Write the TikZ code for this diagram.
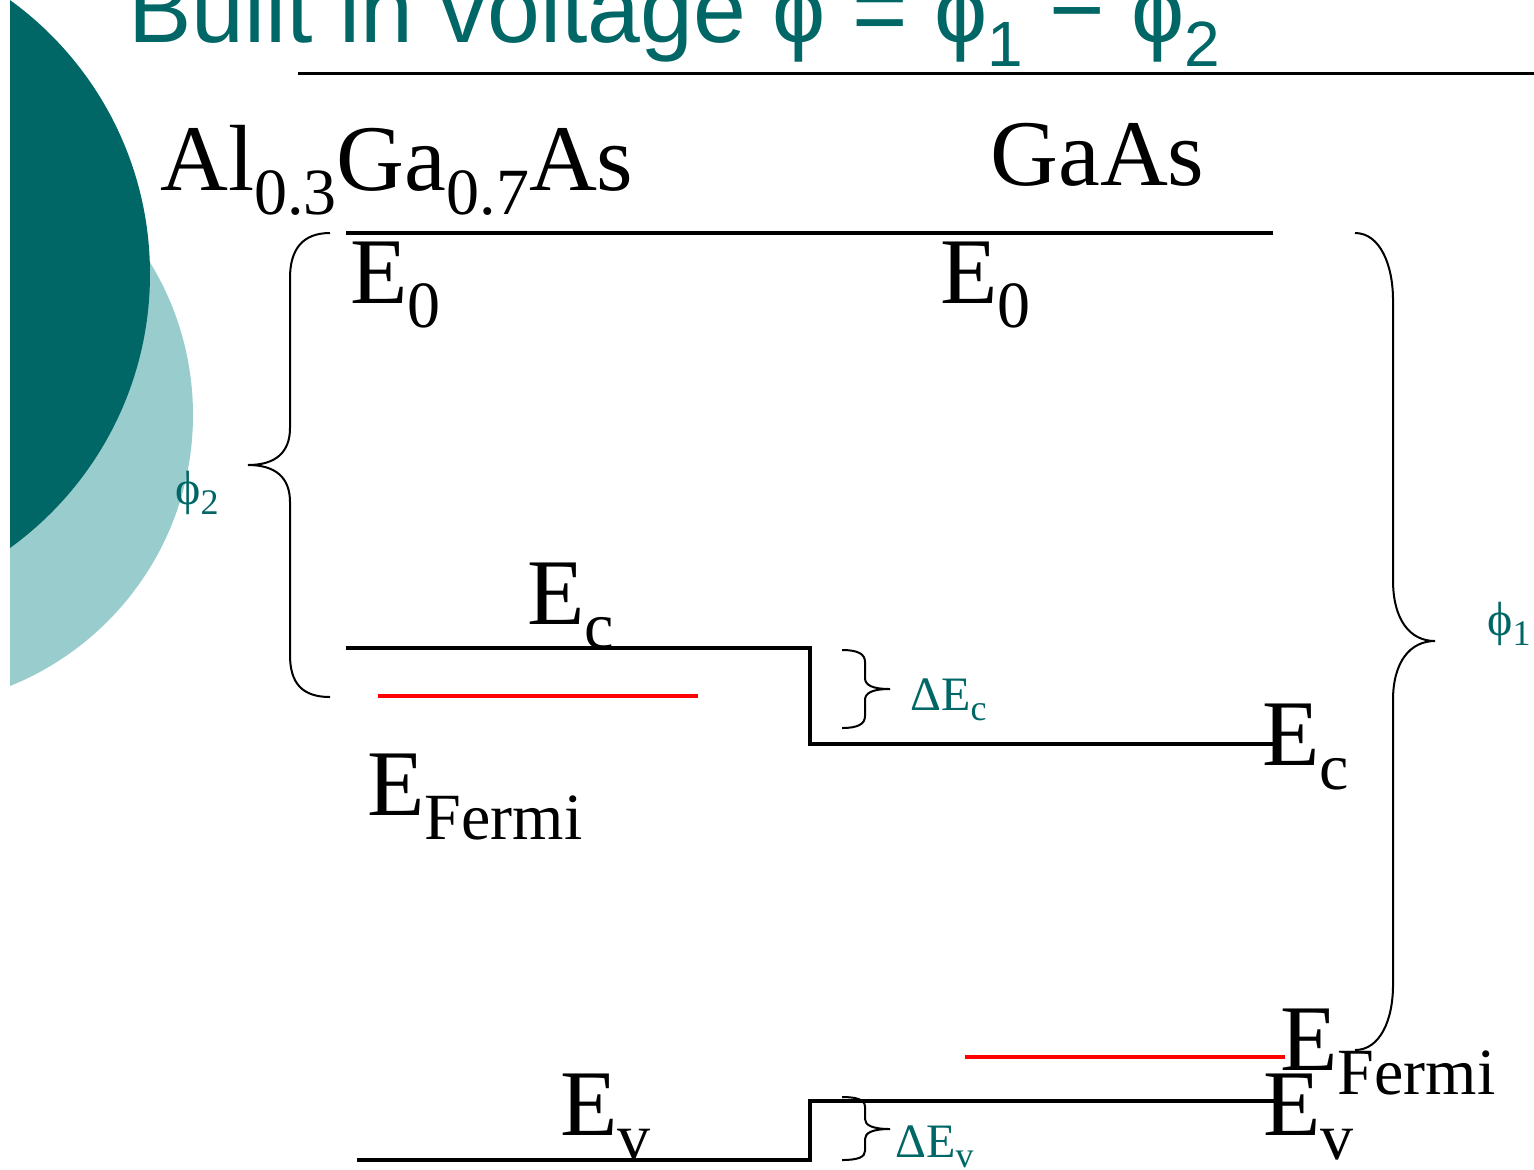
\documentclass[tikz,border=0pt]{standalone}
\usepackage{fontspec}
\setmainfont{Liberation Serif}
\newfontfamily\titlefont{Liberation Sans}
\definecolor{darkteal}{RGB}{0,102,102}
\definecolor{lightteal}{RGB}{153,204,204}
\tikzstyle{band} = [line width=2.4pt]
\tikzset{
lab/.style= {anchor=base west, inner sep=0pt, font=\fontsize{47}{47}\selectfont},
smalllab/.style= {anchor=base west, inner sep=0pt, text=darkteal, font=\fontsize{24}{24}\selectfont},
brace/.style= {line width=1pt},
fermi/.style= {line width=2.4pt, draw=red}
}
\newcommand{\bigsub}[1]{\raisebox{-12pt}{\fontsize{33}{33}\selectfont #1}}
\newcommand{\smallsub}[1]{\raisebox{-5pt}{\fontsize{18}{18}\selectfont #1}}
\newcommand{\titlesub}[1]{\raisebox{-12pt}{\fontsize{32}{32}\selectfont #1}}
\begin{document}
\begin{tikzpicture}[x=0.5pt,y=-0.5pt]
\useasboundingbox (0,0) rectangle (1534,1169);

% the two circles of the slide
\begin{scope}
\clip (10,0) rectangle (400,1169);
\fill[lightteal] (-99,415) circle (146pt);
\fill[darkteal] (-188,274) circle (169pt);
\end{scope}

% the title and its rule
\node[anchor=base west, inner sep=0pt, text=darkteal, font=\titlefont\fontsize{47.5}{47.5}\selectfont] (title) at (128,42) {Built in voltage ϕ = ϕ\titlesub{1} − ϕ\titlesub{2}};
\coordinate (rule1) at (298,73);
\coordinate (rule2) at (1534,73);
\draw[line width=1.5pt] (rule1) -- (rule2);

% the band edges
\coordinate (e0a) at (346,233);
\coordinate (e0b) at (1273,233);
\coordinate (eca) at (346,648);
\coordinate (ecm) at (810,648);
\coordinate (ecn) at (810,744);
\coordinate (ecb) at (1273,744);
\coordinate (eva) at (357,1160);
\coordinate (evm) at (810,1160);
\coordinate (evn) at (810,1101);
\coordinate (evb) at (1275,1101);
\draw[band] (e0a) -- (e0b);
\draw[band] (eca) -- (ecm) -- (ecn) -- (ecb);
\draw[band] (eva) -- (evm) -- (evn) -- (evb);

% the Fermi levels
\coordinate (fl1) at (378,696);
\coordinate (fl2) at (698,696);
\coordinate (fr1) at (965,1057);
\coordinate (fr2) at (1285,1057);
\draw[fermi] (fl1) -- (fl2);
\draw[fermi] (fr1) -- (fr2);

% the braces
\draw[brace] (330,233) .. controls (302,233) and (290,250) .. (290,278) -- (290,428)
  .. controls (290,452) and (276,465) .. (248,465) .. controls (276,465) and (290,478) .. (290,502)
  -- (290,655) .. controls (290,683) and (302,697) .. (330,697);
\draw[brace] (1355,233) .. controls (1380,233) and (1393,265) .. (1393,300) -- (1393,580)
  .. controls (1393,620) and (1410,641) .. (1435,641) .. controls (1410,641) and (1393,662) .. (1393,700)
  -- (1393,985) .. controls (1393,1020) and (1380,1050) .. (1355,1050);
\draw[brace] (842,650) .. controls (858,650) and (865,654) .. (865,662) -- (865,678)
  .. controls (865,685) and (872,689) .. (890,689) .. controls (872,689) and (865,693) .. (865,700)
  -- (865,716) .. controls (865,724) and (858,728) .. (842,728);
\draw[brace] (842,1097) .. controls (858,1097) and (865,1100) .. (865,1107) -- (865,1119)
  .. controls (865,1125) and (872,1129) .. (890,1129) .. controls (872,1129) and (865,1133) .. (865,1139)
  -- (865,1151) .. controls (865,1157) and (858,1160) .. (842,1160);

% the labels
\node[lab] (alga) at (160,190) {Al\bigsub{0.3}Ga\bigsub{0.7}As};
\node[lab] (gaas) at (990,185) {GaAs};
\node[lab] (e0l) at (350,303) {E\bigsub{0}};
\node[lab] (e0r) at (940,303) {E\bigsub{0}};
\node[lab] (ecl) at (527,624) {E\bigsub{c}};
\node[lab] (efl) at (367,815) {E\bigsub{Fermi}};
\node[lab] (ecr) at (1262,765) {E\bigsub{c}};
\node[lab] (efr) at (1280,1070) {E\bigsub{Fermi}};
\node[lab] (evl) at (560,1135) {E\bigsub{v}};
\node[lab] (evr) at (1263,1135) {E\bigsub{v}};
\node[smalllab] (phi2) at (175,504) {ϕ\smallsub{2}};
\node[smalllab] (phi1) at (1487,635) {ϕ\smallsub{1}};
\node[smalllab] (dec) at (910,710) {ΔE\smallsub{c}};
\node[smalllab] (dev) at (895,1157) {ΔE\smallsub{v}};

\end{tikzpicture}
\end{document}
